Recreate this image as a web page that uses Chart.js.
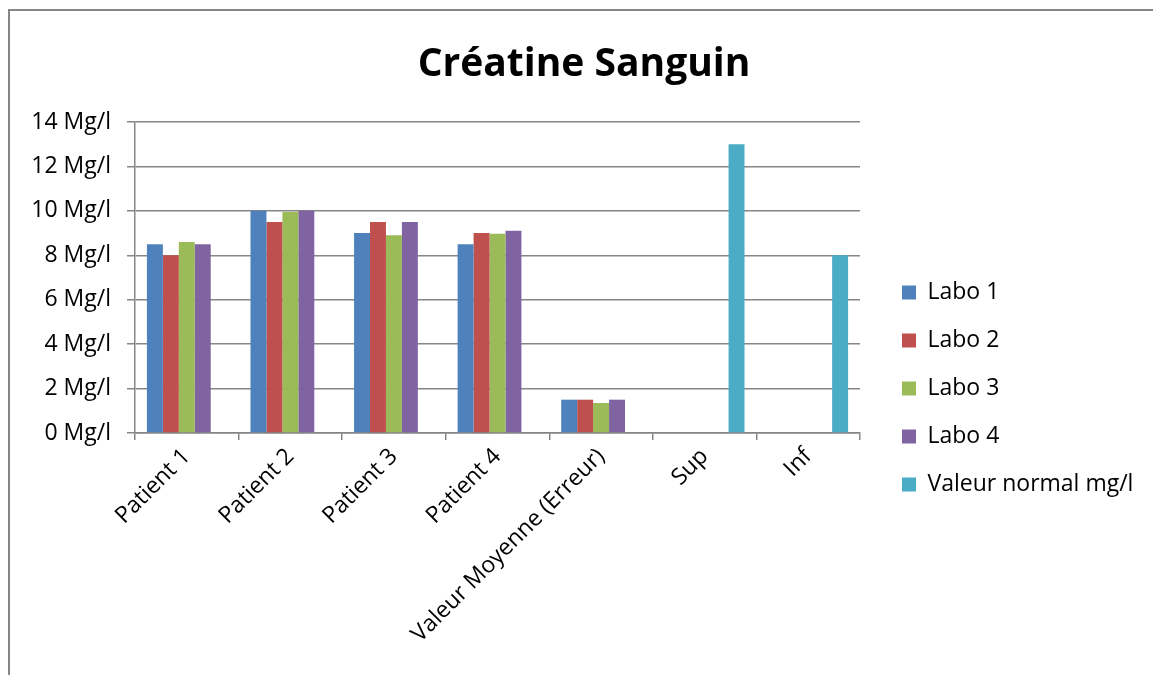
<!DOCTYPE html>
<html>
<head>
<meta charset="utf-8">
<script src="https://cdn.jsdelivr.net/npm/chart.js@4/dist/chart.umd.min.js"></script>
<style>
  body { margin: 0; background: #fff; }
  #cadre { position: absolute; left: 8px; top: 9px; width: 1160px; height: 680px;
           border-left: 2px solid #868686; border-top: 2px solid #868686; }
  #miGrafico { position: absolute; left: 0; top: 0; }
</style>
</head>
<body>
<div id="cadre"></div>
<canvas id="miGrafico" width="1153" height="675"></canvas>
<script>
const categorias = ['Patient 1', 'Patient 2', 'Patient 3', 'Patient 4', 'Valeur Moyenne (Erreur)', 'Sup', 'Inf'];
const labo1 = [8.5, 10, 9, 8.5, 1.5, null, null];
const labo2 = [8, 9.5, 9.5, 9, 1.5, null, null];
const labo3 = [8.6, 9.95, 8.9, 8.97, 1.35, null, null];
const labo4 = [8.5, 10, 9.5, 9.1, 1.5, null, null];
const valeurNormal = [null, null, null, null, null, 13, 8];
const unite = 'Mg/l';

const gris = '#868686';
const fuente = 'Open Sans';

// la leyenda de Excel va mas abajo y mas cerca del grafico
const moverLeyenda = {
  id: 'moverLeyenda',
  afterLayout(chart) {
    const lg = chart.legend;
    lg.left = chart.chartArea.right + 17;
    lg.right = chart.width;
    lg.top += 51;
    lg.bottom += 51;
  }
};

document.addEventListener('DOMContentLoaded', () => {
  const canvas = document.getElementById('miGrafico');

  new Chart(canvas.getContext('2d'), {
    type: 'bar',
    data: {
      labels: categorias,
      datasets: [
        { label: 'Labo 1', data: labo1, backgroundColor: '#4F81BD' },
        { label: 'Labo 2', data: labo2, backgroundColor: '#C0504D' },
        { label: 'Labo 3', data: labo3, backgroundColor: '#9BBB59' },
        { label: 'Labo 4', data: labo4, backgroundColor: '#8064A2' },
        { label: 'Valeur normal mg/l', data: valeurNormal, backgroundColor: '#4BACC6' }
      ]
    },
    options: {
      responsive: false,
      animation: false,
      devicePixelRatio: 1,
      categoryPercentage: 0.77,
      barPercentage: 1,
      layout: { padding: { left: 15, right: 0, top: 0, bottom: 0 } },
      plugins: {
        title: {
          display: true,
          text: 'Créatine Sanguin',
          color: '#000',
          font: { family: fuente, size: 39, weight: 'bold' },
          padding: { top: 41, bottom: 34.2 }
        },
        legend: {
          position: 'right',
          maxWidth: 200,
          labels: {
            color: '#000',
            font: { family: fuente, size: 23 },
            boxWidth: 14,
            boxHeight: 14,
            padding: 25
          }
        },
        tooltip: { enabled: false }
      },
      scales: {
        x: {
          grid: { display: true, drawOnChartArea: false, color: gris, lineWidth: 1.5, tickLength: 7 },
          border: { color: gris, width: 1.5 },
          ticks: {
            color: '#000',
            font: { family: fuente, size: 23 },
            minRotation: 45,
            maxRotation: 45,
            autoSkip: false
          },
          afterFit(s) { s.height = 242; }
        },
        y: {
          min: 0,
          max: 14,
          grid: { color: gris, lineWidth: 1.5, tickLength: 8 },
          border: { color: gris, width: 1.5 },
          ticks: {
            stepSize: 2,
            color: '#000',
            padding: 16,
            font: { family: fuente, size: 23 },
            callback: v => v + ' ' + unite
          },
          afterFit(s) { s.width = 120; }
        },
        marge: {
          position: 'right',
          grid: { display: false },
          border: { display: false },
          ticks: { display: false },
          afterFit(s) { s.width = 93; }
        }
      }
    },
    plugins: [moverLeyenda]
  });
});
</script>
</body>
</html>
